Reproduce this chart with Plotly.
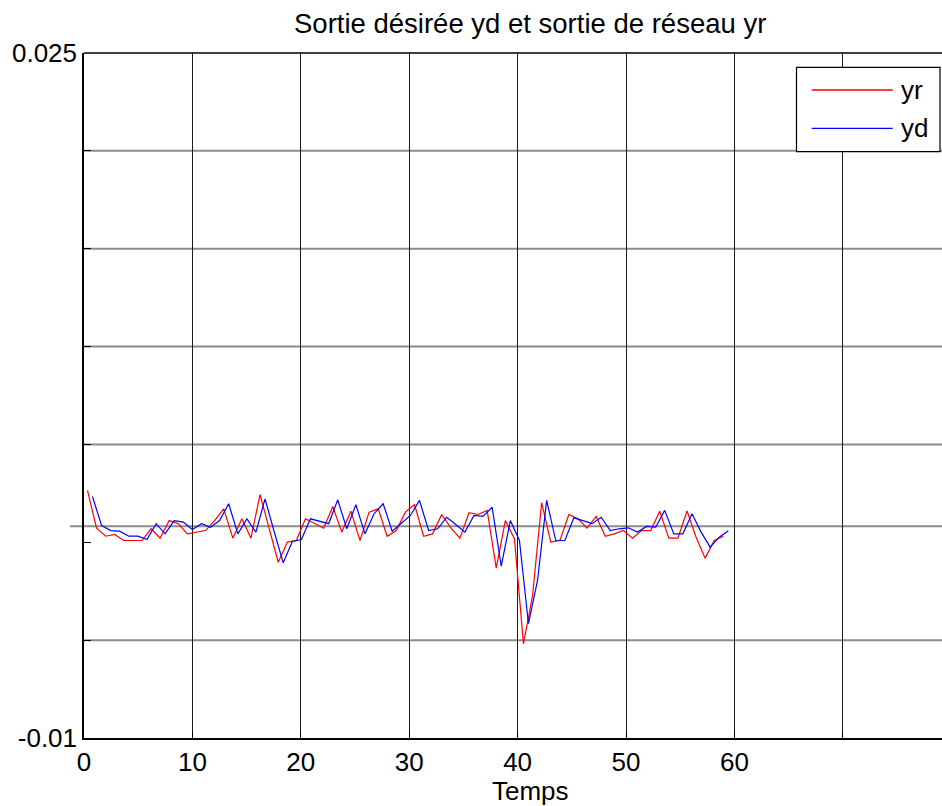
import plotly.graph_objects as go

# ---------------- data ----------------
t_yr = [0.32, 1.16, 2.00, 2.83, 3.67, 4.51, 5.35, 6.19, 7.02, 7.86,
        8.70, 9.54, 10.38, 11.21, 12.05, 12.89, 13.73, 14.57, 15.40, 16.24,
        17.08, 17.92, 18.76, 19.59, 20.43, 21.27, 22.11, 22.95, 23.78, 24.62,
        25.46, 26.30, 27.14, 27.97, 28.81, 29.65, 30.49, 31.33, 32.16, 33.00,
        33.84, 34.68, 35.52, 36.35, 37.19, 38.03, 38.87, 39.71, 40.54, 41.38,
        42.22, 43.06, 43.90, 44.73, 45.57, 46.41, 47.25, 48.09, 48.92, 49.76,
        50.60, 51.44, 52.28, 53.11, 53.95, 54.79, 55.63, 56.47, 57.30, 58.14,
        58.98]
yr = [0.00265, 0.00072, 0.00031, 0.00040, 0.00009, 0.00009, 0.00009, 0.00069, 0.00021, 0.00111,
      0.00095, 0.00043, 0.00052, 0.00060, 0.00111, 0.00171, 0.00021, 0.00120, 0.00021, 0.00244,
      0.00071, -0.00102, 0.00001, 0.00009, 0.00120, 0.00096, 0.00072, 0.00183, 0.00052, 0.00159,
      0.00009, 0.00154, 0.00171, 0.00031, 0.00060, 0.00154, 0.00193, 0.00031, 0.00043, 0.00142,
      0.00074, 0.00021, 0.00151, 0.00142, 0.00163, -0.00132, 0.00111, 0.00018, -0.00519, -0.00272,
      0.00202, 0.00001, 0.00009, 0.00142, 0.00120, 0.00072, 0.00132, 0.00031, 0.00043, 0.00060,
      0.00021, 0.00060, 0.00060, 0.00159, 0.00021, 0.00021, 0.00160, 0.00026, -0.00081, 0.00009,
      0.00031]

t_yd = [0.78, 1.62, 2.46, 3.29, 4.13, 4.97, 5.81, 6.65, 7.48, 8.32,
        9.16, 10.00, 10.84, 11.67, 12.51, 13.35, 14.19, 15.03, 15.86, 16.70,
        17.54, 18.38, 19.22, 20.05, 20.89, 21.73, 22.57, 23.41, 24.24, 25.08,
        25.92, 26.76, 27.60, 28.43, 29.27, 30.11, 30.95, 31.79, 32.62, 33.46,
        34.30, 35.14, 35.98, 36.81, 37.65, 38.49, 39.33, 40.17, 41.00, 41.84,
        42.68, 43.52, 44.36, 45.19, 46.03, 46.87, 47.71, 48.55, 49.38, 50.22,
        51.06, 51.90, 52.74, 53.57, 54.41, 55.25, 56.09, 56.93, 57.76, 58.60,
        59.44]
yd = [0.00234, 0.00086, 0.00060, 0.00057, 0.00031, 0.00031, 0.00014, 0.00095, 0.00043, 0.00111,
      0.00103, 0.00065, 0.00095, 0.00077, 0.00111, 0.00197, 0.00043, 0.00120, 0.00052, 0.00222,
      0.00055, -0.00105, 0.00004, 0.00014, 0.00120, 0.00106, 0.00095, 0.00217, 0.00069, 0.00192,
      0.00043, 0.00146, 0.00197, 0.00057, 0.00095, 0.00137, 0.00214, 0.00060, 0.00069, 0.00128,
      0.00091, 0.00052, 0.00137, 0.00132, 0.00179, -0.00122, 0.00111, 0.00009, -0.00416, -0.00195,
      0.00214, 0.00009, 0.00009, 0.00125, 0.00111, 0.00095, 0.00128, 0.00060, 0.00069, 0.00074,
      0.00052, 0.00081, 0.00077, 0.00163, 0.00043, 0.00043, 0.00146, 0.00052, -0.00025, 0.00026,
      0.00059]

x_ticks = [0, 10, 20, 30, 40, 50, 60, 70]
x_ticktext = ["0", "10", "20", "30", "40", "50", "60", ""]
y_ticks = [-0.01, -0.005, 0.0, 0.005, 0.01, 0.015, 0.02, 0.025]
y_ticktext = ["-0.01", "", "", "", "", "", "", "0.025"]
y_grid = [-0.005, 0.005, 0.01, 0.015, 0.02]
ref_level = 0.00082

series_names = ["yr", "yd"]
series_colors = ["#ff0000", "#0000ff"]

# ---------------- layout geometry ----------------
# the axes box runs past the right edge of the 942 px window (as in the original)
W, H = 1000, 806
ML, MR, MT, MB = 84, 0, 53, 68
PW, PH = W - ML - MR, H - MT - MB
PX_PER_UNIT = 10.84
X_MAX = PW / PX_PER_UNIT

FONT = "Liberation Sans, Arial, sans-serif"


def px_x(px):
    return (px - ML) / PW


def px_y(py):
    return (H - MB - py) / PH


fig = go.Figure()
fig.add_trace(go.Scatter(x=t_yr, y=yr, mode="lines", name=series_names[0],
                         line=dict(color=series_colors[0], width=1.2), showlegend=False))
fig.add_trace(go.Scatter(x=t_yd, y=yd, mode="lines", name=series_names[1],
                         line=dict(color=series_colors[1], width=1.2), showlegend=False))

shapes = []
# horizontal grid lines (gray)
for g in y_grid:
    shapes.append(dict(type="line", xref="paper", yref="y", x0=0, x1=1, y0=g, y1=g,
                       line=dict(color="#8c8c8c", width=2), layer="below"))
# reference line extending slightly left of the axis
shapes.append(dict(type="line", xref="paper", yref="y", x0=px_x(70), x1=1,
                   y0=ref_level, y1=ref_level,
                   line=dict(color="#8c8c8c", width=2.2), layer="below"))
# top border of the axes box
shapes.append(dict(type="line", xref="paper", yref="paper", x0=0, x1=1, y0=1, y1=1,
                   line=dict(color="black", width=1.5), layer="above"))

# legend box
lx0, lx1, ly0, ly1 = 796.5, 940, 67.3, 151.7
shapes.append(dict(type="rect", xref="paper", yref="paper",
                   x0=px_x(lx0), x1=px_x(lx1), y0=px_y(ly1), y1=px_y(ly0),
                   fillcolor="white", line=dict(color="black", width=1.2), layer="above"))
leg_rows = [90, 128.3]
annotations = []
for name, col, ry in zip(series_names, series_colors, leg_rows):
    shapes.append(dict(type="line", xref="paper", yref="paper",
                       x0=px_x(811.7), x1=px_x(892.7), y0=px_y(ry), y1=px_y(ry),
                       line=dict(color=col, width=1.3), layer="above"))
    annotations.append(dict(text=name, xref="paper", yref="paper", x=px_x(899), y=px_y(ry),
                            xanchor="left", yanchor="middle", showarrow=False,
                            font=dict(family=FONT, size=26, color="black")))

annotations.append(dict(text="Sortie désirée yd et sortie de réseau yr", xref="paper", yref="paper",
                        x=px_x(530), y=px_y(23), xanchor="center", yanchor="middle",
                        showarrow=False, font=dict(family=FONT, size=27.5, color="black")))
annotations.append(dict(text="Temps", xref="paper", yref="paper",
                        x=px_x(530), y=px_y(791), xanchor="center", yanchor="middle",
                        showarrow=False, font=dict(family=FONT, size=26, color="black")))

fig.update_layout(
    width=W, height=H,
    margin=dict(l=ML, r=MR, t=MT, b=MB, pad=0),
    paper_bgcolor="white", plot_bgcolor="white",
    showlegend=False,
    shapes=shapes, annotations=annotations,
    font=dict(family=FONT, size=26, color="black"),
)
fig.update_xaxes(range=[0, X_MAX], tickmode="array", tickvals=x_ticks, ticktext=x_ticktext,
                 ticks="inside", ticklen=7, tickwidth=1, tickcolor="black",
                 showgrid=True, gridcolor="#1a1a1a", gridwidth=1.3,
                 showline=True, linecolor="black", linewidth=1.5, mirror=False,
                 zeroline=False, tickfont=dict(family=FONT, size=26, color="black"))
fig.update_yaxes(range=[-0.01, 0.025], tickmode="array", tickvals=y_ticks, ticktext=y_ticktext,
                 ticks="inside", ticklen=7, tickwidth=1.3, tickcolor="black",
                 showgrid=False, showline=True, linecolor="black", linewidth=1.5, mirror=False,
                 zeroline=False, tickfont=dict(family=FONT, size=26, color="black"))

fig.write_html("out.html",
               config={"displayModeBar": False},
               post_script="document.documentElement.style.overflow='hidden';"
                           "document.body.style.margin='0';document.body.style.overflow='hidden';")
